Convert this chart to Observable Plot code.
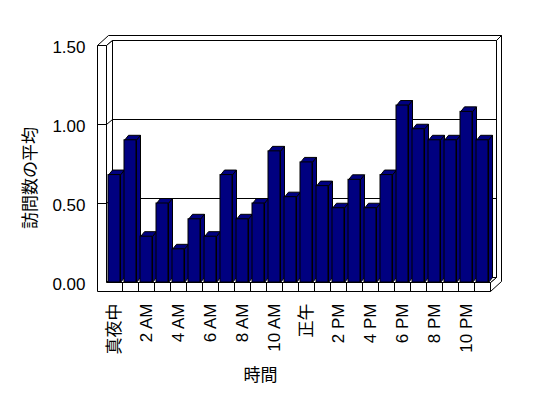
<!DOCTYPE html>
<html><head><meta charset="utf-8">
<script src="https://cdn.jsdelivr.net/npm/d3@7"></script>
<script src="https://cdn.jsdelivr.net/npm/@observablehq/plot@0.6"></script>
<style>
html,body{margin:0;padding:0;background:#fff;}
#chart svg{display:block;}
</style>
</head><body><div id="chart"></div>
<script>
// ---- data ----
const hourLabels = ["真夜中","1 AM","2 AM","3 AM","4 AM","5 AM","6 AM","7 AM","8 AM","9 AM","10 AM","11 AM",
                    "正午","1 PM","2 PM","3 PM","4 PM","5 PM","6 PM","7 PM","8 PM","9 PM","10 PM","11 PM"];
const visits = [0.68,0.90,0.29,0.50,0.21,0.40,0.29,0.68,0.40,0.50,0.83,0.54,
                0.76,0.61,0.47,0.65,0.47,0.68,1.12,0.97,0.90,0.90,1.08,0.90];
const xTickLabels = ["真夜中","2 AM","4 AM","6 AM","8 AM","10 AM","正午","2 PM","4 PM","6 PM","8 PM","10 PM"];
const yTicks = [0, 0.5, 1.0, 1.5];
const xAxisTitle = "時間";
const yAxisTitle = "訪問数の平均";

const data = hourLabels.map((h, i) => ({hour: h, value: visits[i]}));

// ---- 3D styling helpers ----
const BAR = "#000080";
const T = 9;          // wall thickness (front face)
const WB = 1.85;      // outer depth of back wall
const DX = 6, DY = 5.5; // depth offset per unit
const BDX = 4, BDY = 5; // bar depth

function path(g, pts, fill) {
  g.append("path")
    .attr("d", "M" + pts.map(p => p.join(",")).join("L") + "Z")
    .attr("fill", fill).attr("stroke", "black").attr("stroke-linejoin", "miter");
}
function frameGeom(scales, dims) {
  const X0 = dims.marginLeft, X1 = dims.width - dims.marginRight;
  const YT = scales.y(yTicks[yTicks.length - 1]), YB = scales.y(0);
  const S = (u, v, w) => [Math.round(u + w * DX), Math.round(v - w * DY)];
  return {X0, X1, YT, YB, S};
}

function backWalls(index, scales, values, dims) {
  const {X0, X1, YT, YB, S} = frameGeom(scales, dims);
  const g = d3.create("svg:g").attr("transform", "translate(0.5,0.5)");
  path(g, [S(X0 - T, YT, 0), S(X0, YT, 0), S(X0, YT, 1), S(X1, YT, 1), S(X1, YT, WB), S(X0 - T, YT, WB)], "white");
  path(g, [S(X1, YT, 1), S(X1, YT, WB), S(X1, YB + T, WB), S(X1, YB + T, 0), S(X1, YB, 0), S(X1, YB, 1)], "white");
  path(g, [S(X0, YT, 1), S(X1, YT, 1), S(X1, YB, 1), S(X0, YB, 1)], "white");
  path(g, [S(X0, YT, 0), S(X0, YT, 1), S(X0, YB, 1), S(X0, YB, 0)], "white");
  path(g, [S(X0, YB, 0), S(X1, YB, 0), S(X1, YB, 1), S(X0, YB, 1)], "white");
  yTicks.filter(t => t > 0 && t < yTicks[yTicks.length - 1]).forEach(t => {
    const yy = scales.y(t);
    const p = [S(X0, yy, 0), S(X0, yy, 1), S(X1, yy, 1)];
    g.append("path").attr("d", "M" + p.map(q => q.join(",")).join("L"))
      .attr("fill", "none").attr("stroke", "black");
  });
  return g.node();
}

function barFaces(index, scales, values, dims) {
  const g = d3.create("svg:g").attr("transform", "translate(0.5,0.5)");
  const bw = scales.x.bandwidth();
  const yb = scales.y(0);
  data.forEach(d => {
    const x0 = scales.x(d.hour) + 2, x1 = scales.x(d.hour) + bw - 2, yt = scales.y(d.value);
    path(g, [[x0, yt], [x1, yt], [x1 + BDX, yt - BDY], [x0 + BDX, yt - BDY]], BAR);
    path(g, [[x1, yt], [x1 + BDX, yt - BDY], [x1 + BDX, yb - BDY], [x1, yb]], BAR);
  });
  return g.node();
}

function frontWalls(index, scales, values, dims) {
  const {X0, X1, YT, YB} = frameGeom(scales, dims);
  const g = d3.create("svg:g").attr("transform", "translate(0.5,0.5)");
  const r = v => Math.round(v);
  path(g, [[X0 - T, r(YT)], [X0, r(YT)], [X0, r(YB)], [X1, r(YB)], [X1, r(YB) + T], [X0 - T, r(YB) + T]], "white");
  hourLabels.slice(1).forEach(h => {
    const xx = r(scales.x(h));
    g.append("line").attr("x1", xx).attr("x2", xx).attr("y1", r(YB)).attr("y2", r(YB) + T).attr("stroke", "black");
  });
  yTicks.filter(t => t > 0 && t < yTicks[yTicks.length - 1]).forEach(t => {
    const yy = r(scales.y(t));
    g.append("line").attr("x1", X0 - T).attr("x2", X0).attr("y1", yy).attr("y2", yy).attr("stroke", "black");
  });
  return g.node();
}

const chart = Plot.plot({
  width: 548,
  height: 398,
  marginLeft: 106,
  marginRight: 58,
  marginTop: 45,
  marginBottom: 116,
  style: {fontFamily: "'Liberation Sans','Noto Sans CJK JP',sans-serif", fontSize: "17px", background: "white", color: "black"},
  x: {type: "band", domain: hourLabels, padding: 0, round: false},
  y: {domain: [0, 1.5]},
  marks: [
    backWalls,
    barFaces,
    Plot.barY(data, {x: "hour", y: "value", fill: BAR, stroke: "black", insetLeft: 2, insetRight: 2}),
    frontWalls,
    Plot.axisY(yTicks, {tickFormat: d => d.toFixed(2), tickSize: 0, tickPadding: 21, dy: 2, label: null, fontSize: 17, fill: "black"}),
    Plot.axisX(xTickLabels, {tickRotate: -90, tickSize: 0, tickPadding: 21, label: null, fontSize: 17, fill: "black"}),
    Plot.text([yAxisTitle], {frameAnchor: "left", textAnchor: "middle", lineAnchor: "middle", rotate: -90, dx: -76, dy: 14, fontSize: 17, fill: "black", fontFamily: "'Noto Sans CJK JP'"}),
    Plot.text([xAxisTitle], {frameAnchor: "bottom", textAnchor: "middle", lineAnchor: "middle", dx: -38, dy: 93, fontSize: 17, fill: "black", fontFamily: "'Noto Sans CJK JP'"})
  ]
});
document.getElementById("chart").appendChild(chart);
</script>
</body></html>
